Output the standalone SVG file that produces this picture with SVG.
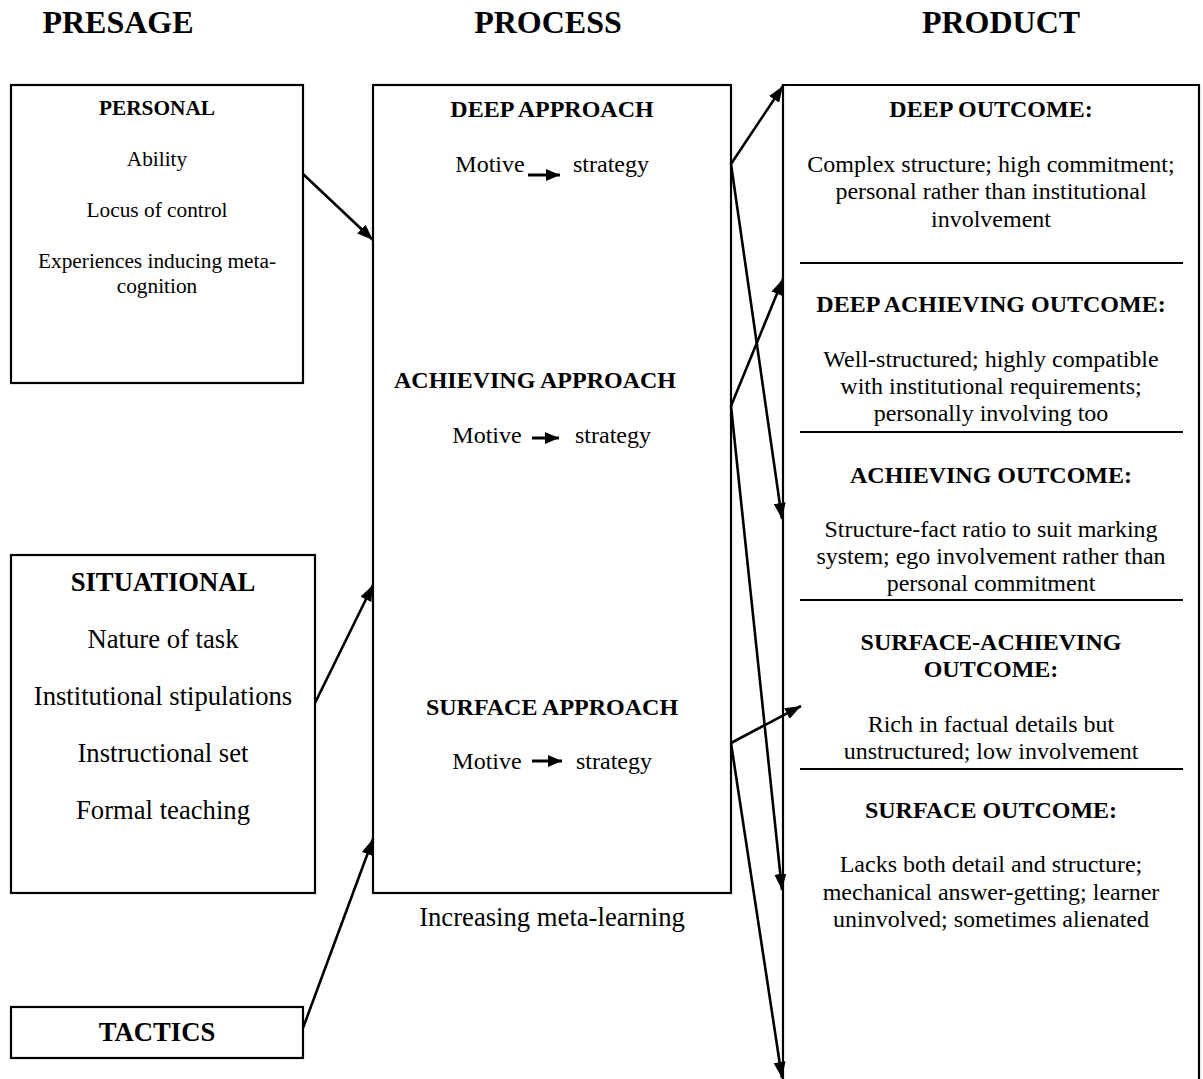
<svg xmlns="http://www.w3.org/2000/svg" width="1203" height="1079" viewBox="0 0 1203 1079">
<defs>
<style>
text{font-family:"Liberation Serif","Times New Roman",serif;fill:#000;text-anchor:middle}
.h{font-size:32px;font-weight:bold}
.b24{font-size:24px;font-weight:bold}
.r24{font-size:24px}
.b21{font-size:21.33px;font-weight:bold}
.r21{font-size:21.33px}
.b26{font-size:26.67px;font-weight:bold}
.r26{font-size:26.67px}
.box{fill:#fff;stroke:#000;stroke-width:2.2}
.sep{stroke:#000;stroke-width:2.2}
.con{stroke:#000;stroke-width:2.6;fill:none;marker-end:url(#ah)}
.mv{stroke:#000;stroke-width:3;fill:none;marker-end:url(#sh)}
</style>
<marker id="ah" markerUnits="userSpaceOnUse" markerWidth="16" markerHeight="12" refX="16" refY="6" orient="auto"><path d="M0,0 L16,6 L0,12 z" fill="#000"/></marker>
<marker id="sh" markerUnits="userSpaceOnUse" markerWidth="14" markerHeight="12" refX="14" refY="6" orient="auto"><path d="M0,0 L14,6 L0,12 z" fill="#000"/></marker>
</defs>
<rect width="1203" height="1079" fill="#fff"/>

<g id="headers">
<text class="h" x="118" y="33">PRESAGE</text>
<text class="h" x="548" y="33">PROCESS</text>
<text class="h" x="1001" y="33">PRODUCT</text>
</g>

<g id="personal">
<rect class="box" x="11" y="85" width="292" height="298"/>
<text class="b21" x="157" y="115">PERSONAL</text>
<text class="r21" x="157" y="166">Ability</text>
<text class="r21" x="157" y="217">Locus of control</text>
<text class="r21" x="157" y="268">Experiences inducing meta-</text>
<text class="r21" x="157" y="293">cognition</text>
</g>

<g id="situational">
<rect class="box" x="11" y="555" width="304" height="338"/>
<text class="b26" x="163" y="591">SITUATIONAL</text>
<text class="r26" x="163" y="648">Nature of task</text>
<text class="r26" x="163" y="705">Institutional stipulations</text>
<text class="r26" x="163" y="762">Instructional set</text>
<text class="r26" x="163" y="819">Formal teaching</text>
</g>

<g id="tactics">
<rect class="box" x="11" y="1007" width="292" height="51"/>
<text class="b26" x="157" y="1041">TACTICS</text>
</g>

<g id="process">
<rect class="box" x="373" y="85" width="358" height="808"/>
<text class="b24" x="552" y="117">DEEP APPROACH</text>
<text class="r24" x="490" y="172">Motive</text>
<line class="mv" x1="528" y1="175" x2="560" y2="175"/>
<text class="r24" x="611" y="172">strategy</text>
<text class="b24" x="535" y="388">ACHIEVING APPROACH</text>
<text class="r24" x="487" y="443">Motive</text>
<line class="mv" x1="532" y1="438" x2="559" y2="438"/>
<text class="r24" x="613" y="443">strategy</text>
<text class="b24" x="552" y="715">SURFACE APPROACH</text>
<text class="r24" x="487" y="769">Motive</text>
<line class="mv" x1="532" y1="761" x2="562" y2="761"/>
<text class="r24" x="614" y="769">strategy</text>
</g>

<g id="meta-label">
<text class="r26" x="552" y="926">Increasing meta-learning</text>
</g>

<g id="product">
<path d="M783,1085 L783,85 L1199,85 L1199,1085" fill="none" stroke="#000" stroke-width="2.2"/>
<line class="sep" x1="800" y1="263" x2="1183" y2="263"/>
<line class="sep" x1="800" y1="432" x2="1183" y2="432"/>
<line class="sep" x1="800" y1="600" x2="1183" y2="600"/>
<line class="sep" x1="800" y1="769" x2="1183" y2="769"/>
<text class="b24" x="991" y="117">DEEP OUTCOME:</text>
<text class="r24" x="991" y="172">Complex structure; high commitment;</text>
<text class="r24" x="991" y="199">personal rather than institutional</text>
<text class="r24" x="991" y="227">involvement</text>
<text class="b24" x="991" y="312">DEEP ACHIEVING OUTCOME:</text>
<text class="r24" x="991" y="367">Well-structured; highly compatible</text>
<text class="r24" x="991" y="394">with institutional requirements;</text>
<text class="r24" x="991" y="421">personally involving too</text>
<text class="b24" x="991" y="483">ACHIEVING OUTCOME:</text>
<text class="r24" x="991" y="537">Structure-fact ratio to suit marking</text>
<text class="r24" x="991" y="564">system; ego involvement rather than</text>
<text class="r24" x="991" y="591">personal commitment</text>
<text class="b24" x="991" y="650">SURFACE-ACHIEVING</text>
<text class="b24" x="991" y="677">OUTCOME:</text>
<text class="r24" x="991" y="732">Rich in factual details but</text>
<text class="r24" x="991" y="759">unstructured; low involvement</text>
<text class="b24" x="991" y="818">SURFACE OUTCOME:</text>
<text class="r24" x="991" y="872">Lacks both detail and structure;</text>
<text class="r24" x="991" y="900">mechanical answer-getting; learner</text>
<text class="r24" x="991" y="927">uninvolved; sometimes alienated</text>
</g>

<g id="connectors">
<line class="con" x1="303" y1="174" x2="373" y2="240"/>
<line class="con" x1="315" y1="703" x2="373" y2="585"/>
<line class="con" x1="303" y1="1028" x2="373" y2="839"/>
<line class="con" x1="731" y1="164" x2="783" y2="86"/>
<line class="con" x1="731" y1="164" x2="782" y2="519"/>
<line class="con" x1="731" y1="406" x2="783" y2="279"/>
<line class="con" x1="731" y1="406" x2="782" y2="890"/>
<line class="con" x1="731" y1="743" x2="801" y2="706"/>
<line class="con" x1="731" y1="743" x2="782" y2="1078"/>
</g>
</svg>
